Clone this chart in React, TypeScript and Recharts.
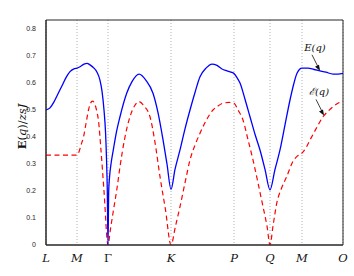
import {
  ComposedChart,
  Line,
  XAxis,
  YAxis,
  CartesianGrid,
  ReferenceArea,
  ReferenceDot,
  Label,
} from "recharts";

// path positions along L-M-Γ-K-P-Q-M-O and tick labels
const tickPos = [0, 31, 62, 125, 188, 224, 256, 297];
const tickNames = ["L", "M", "Γ", "K", "P", "Q", "M", "O"];
const yTicks = [0, 0.1, 0.2, 0.3, 0.4, 0.5, 0.6, 0.7, 0.8];

// E(q) - solid blue
const qE = [
  0, 4, 8, 12, 16, 20, 24, 28, 31, 34, 38, 41, 44, 48, 51, 54, 56, 58, 59.5,
  60.5, 61.3, 62, 62.7, 63.5, 65, 67.3, 70, 74, 80.7, 86, 93, 100, 107, 112,
  117, 121, 125, 129, 134, 139, 144, 149, 154, 160, 166, 171, 176, 181, 185,
  188, 191, 194, 199, 204, 209, 214, 219, 224, 229, 234, 239, 244, 248, 251,
  256, 262, 268, 274, 280, 287, 292, 297,
];
const valE = [
  0.5, 0.508, 0.53, 0.56, 0.59, 0.62, 0.642, 0.652, 0.655, 0.66, 0.67, 0.673,
  0.667, 0.655, 0.64, 0.61, 0.57, 0.5, 0.42, 0.32, 0.2, 0, 0.2, 0.25, 0.3,
  0.352, 0.41, 0.475, 0.562, 0.605, 0.633, 0.61, 0.562, 0.49, 0.39, 0.3, 0.206,
  0.28, 0.352, 0.43, 0.5, 0.565, 0.623, 0.655, 0.67, 0.665, 0.652, 0.645, 0.64,
  0.635, 0.62, 0.6, 0.54, 0.475, 0.41, 0.352, 0.28, 0.204, 0.28, 0.352, 0.445,
  0.537, 0.6, 0.636, 0.655, 0.655, 0.65, 0.645, 0.64, 0.633, 0.633, 0.636,
];

// script-E(q) - dashed red
const qEps = [
  0, 31, 33, 35, 37.5, 40, 42.5, 44.5, 46.5, 48.5, 50.5, 52.5, 55, 58, 62, 64.5,
  67.5, 71, 74, 79, 84, 88.5, 93, 98, 104, 109, 114, 119.5, 125, 129.5, 134, 139,
  144, 149, 154, 160, 167, 172, 177, 183, 188, 192, 197, 202, 207, 212, 217, 221,
  224, 227, 230.7, 235.5, 240.7, 247, 251, 256, 260, 264, 270, 277, 282, 287,
  292, 297,
];
const valEps = [
  0.333, 0.333, 0.345, 0.37, 0.4, 0.45, 0.5, 0.525, 0.533, 0.525, 0.5, 0.46,
  0.35, 0.2, 0, 0.06, 0.13, 0.21, 0.29, 0.4, 0.475, 0.515, 0.531, 0.515, 0.475,
  0.38, 0.253, 0.13, 0, 0.07, 0.142, 0.23, 0.315, 0.37, 0.414, 0.46, 0.5, 0.515,
  0.525, 0.528, 0.525, 0.5, 0.463, 0.39, 0.315, 0.23, 0.142, 0.07, 0, 0.07,
  0.154, 0.21, 0.253, 0.31, 0.328, 0.34, 0.36, 0.389, 0.43, 0.475, 0.495, 0.512,
  0.525, 0.533,
];

const dataE = qE.map((q, i) => ({ q, v: valE[i] }));
const dataEps = qEps.map((q, i) => ({ q, v: valEps[i] }));

const serif = "'DejaVu Serif', 'Liberation Serif', serif";
const sans = "'Liberation Sans', Arial, sans-serif";

const XTick = (props: any) => {
  const { x, y, index } = props;
  const name = tickNames[index];
  return (
    <text
      x={x}
      y={y + 9}
      textAnchor="middle"
      fontFamily={serif}
      fontSize={11.5}
      fontStyle={name === "Γ" ? "normal" : "italic"}
      fill="#111"
    >
      {name}
    </text>
  );
};

// arrow + text annotation, anchored at a data point
const Callout = (text: string) => (props: any) => {
  const { cx, cy } = props;
  const sx = cx - 8;
  const sy = cy - 16;
  return (
    <g>
      <text
        x={cx - 5}
        y={sy - 4}
        textAnchor="middle"
        fontFamily={serif}
        fontStyle="italic"
        fontSize={10}
        fill="#111"
      >
        {text}
      </text>
      <line x1={sx} y1={sy} x2={cx - 1} y2={cy - 2} stroke="#111" strokeWidth={0.8} />
      <polygon
        points={`${cx},${cy} ${cx - 5},${cy - 4} ${cx - 1},${cy - 6}`}
        fill="#111"
      />
    </g>
  );
};

const YLabel = (props: any) => {
  const { viewBox } = props;
  const cx = 23;
  const cy = viewBox.y + viewBox.height / 2 - 6;
  return (
    <text
      x={cx}
      y={cy}
      transform={`rotate(-90, ${cx}, ${cy})`}
      textAnchor="middle"
      dominantBaseline="middle"
      fontFamily={serif}
      fontSize={11.5}
      fill="#111"
    >
      <tspan fontWeight="bold">E</tspan>
      <tspan>(</tspan>
      <tspan fontStyle="italic">q</tspan>
      <tspan>)/</tspan>
      <tspan fontStyle="italic">zsJ</tspan>
    </text>
  );
};

export default function App() {
  return (
    <div style={{ position: "absolute", left: 0, top: 0, background: "#fff" }}>
      <ComposedChart
        width={354}
        height={276}
        margin={{ top: 20, right: 11, bottom: 11, left: 0 }}
      >
        <CartesianGrid
          horizontal={false}
          stroke="#b0b0b0"
          strokeDasharray="1 2"
        />
        <XAxis
          type="number"
          dataKey="q"
          domain={[0, 297]}
          ticks={tickPos}
          allowDataOverflow
          height={20}
          tickLine={false}
          axisLine={{ stroke: "#262626" }}
          tick={<XTick />}
          interval={0}
        />
        <YAxis
          type="number"
          domain={[0, 0.8333]}
          ticks={yTicks}
          allowDataOverflow
          width={46}
          tickLine={false}
          axisLine={{ stroke: "#262626" }}
          tick={{ fontSize: 7, fill: "#262626", fontFamily: sans }}
          tickMargin={4}
          tickFormatter={(v: number) => (v === 0 ? "0" : v.toFixed(1))}
        >
          <Label content={<YLabel />} />
        </YAxis>
        <YAxis
          yAxisId="in-left"
          type="number"
          domain={[0, 0.8333]}
          ticks={yTicks}
          allowDataOverflow
          mirror
          width={0}
          tickSize={3}
          axisLine={false}
          tickLine={{ stroke: "#262626" }}
          tick={{ fill: "none", fontSize: 1 }}
        />
        <YAxis
          yAxisId="in-right"
          orientation="right"
          type="number"
          domain={[0, 0.8333]}
          ticks={yTicks}
          allowDataOverflow
          mirror
          width={0}
          tickSize={3}
          axisLine={false}
          tickLine={{ stroke: "#262626" }}
          tick={{ fill: "none", fontSize: 1 }}
        />
        <ReferenceArea
          x1={0}
          x2={297}
          y1={0}
          y2={0.8333}
          fill="none"
          stroke="#262626"
          strokeWidth={1}
          ifOverflow="visible"
        />
        <Line
          data={dataEps}
          dataKey="v"
          type="monotone"
          stroke="#ff0000"
          strokeWidth={1.2}
          strokeDasharray="5 3.5"
          dot={false}
          isAnimationActive={false}
        />
        <Line
          data={dataE}
          dataKey="v"
          type="monotone"
          stroke="#0000ff"
          strokeWidth={1.3}
          dot={false}
          isAnimationActive={false}
        />
        <ReferenceDot
          x={274}
          y={0.645}
          r={0}
          ifOverflow="visible"
          shape={Callout("E(q)")}
        />
        <ReferenceDot
          x={278}
          y={0.48}
          r={0}
          ifOverflow="visible"
          shape={Callout("ℰ(q)")}
        />
      </ComposedChart>
    </div>
  );
}
